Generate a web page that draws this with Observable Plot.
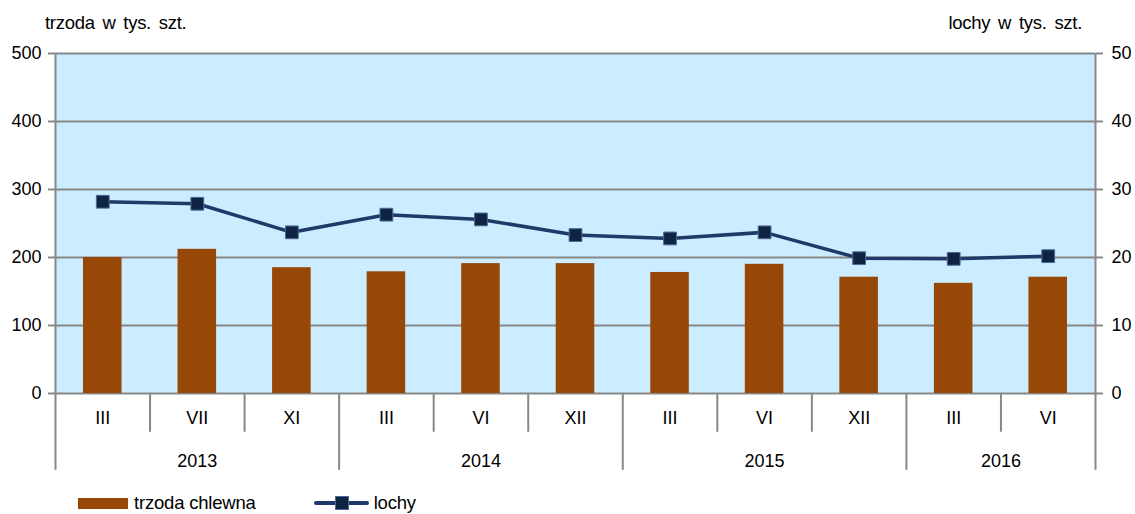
<!DOCTYPE html>
<html><head><meta charset="utf-8">
<script src="https://cdn.jsdelivr.net/npm/d3@7"></script>
<script src="https://cdn.jsdelivr.net/npm/@observablehq/plot@0.6"></script>
<style>
body{margin:0;background:#fff;font-family:"Liberation Sans",Arial,sans-serif;}
#wrap{position:relative;width:1135px;height:514px;overflow:hidden;}
.lbl{position:absolute;font-size:18.5px;color:#000;letter-spacing:-0.3px;word-spacing:3px;white-space:nowrap;}
#chart{position:absolute;left:0;top:40px;}
#legend{position:absolute;left:78px;top:492px;height:22px;display:flex;align-items:center;font-size:18.5px;color:#000;letter-spacing:-0.2px;}
.sw-bar{width:50px;height:11px;background:#974706;display:inline-block;margin-right:6px;}
.sw-line{position:relative;width:55px;height:14px;display:inline-block;margin-left:58px;margin-right:5px;}
.sw-line:before{content:"";position:absolute;left:0;right:0;top:5px;height:4px;background:#1F3A68;border-radius:2px;}
.sw-line:after{content:"";position:absolute;left:21px;top:0;width:12px;height:12px;background:#0F2442;border:1px solid #4A6A96;}
</style></head><body>
<div id="wrap">
<div class="lbl" style="left:45px;top:12px">trzoda w tys. szt.</div>
<div class="lbl" style="right:53px;top:12px">lochy w tys. szt.</div>
<div id="chart"></div>
<div id="legend"><span class="sw-bar"></span><span>trzoda chlewna</span><span class="sw-line"></span><span>lochy</span></div>
</div>
<script>
const months = ["III","VII","XI","III","VI","XII","III","VI","XII","III","VI"];
const years = [2013,2013,2013,2014,2014,2014,2015,2015,2015,2016,2016];
const trzoda = [200,212,185,179,191,191,178,190,171,162,171];
const lochy = [28.2,27.9,23.7,26.3,25.6,23.3,22.8,23.7,19.9,19.8,20.2];
const yTicks = [0,100,200,300,400,500];

const n = months.length;
const data = months.map((m,i)=>({i, month:m, year:years[i], trzoda:trzoda[i], lochy:lochy[i]}));
const boundaries = d3.range(n+1);
const isYearB = b => b===0 || b===n || years[b]!==years[b-1];
const yearGroups = [];
years.forEach((y,i)=>{ if(i===0||years[i-1]!==y) yearGroups.push({year:y,start:i,end:i+1}); else yearGroups[yearGroups.length-1].end=i+1; });

const ROW1 = -57, ROW2 = -113;
const grid = "#888888";

const chart = Plot.plot({
  width:1135, height:440,
  marginTop:13, marginBottom:87, marginLeft:55, marginRight:40,
  style:{fontFamily:"Liberation Sans, Arial, sans-serif", background:"transparent", color:"#000"},
  x:{type:"linear", domain:[0,n], axis:null},
  y:{domain:[0,500], axis:null},
  marks:[
    Plot.frame({fill:"#CCECFF", stroke:null}),
    Plot.ruleY(yTicks, {stroke:grid, strokeWidth:2}),
    Plot.axisY(yTicks, {anchor:"left", tickSize:7, tickPadding:7, stroke:grid, strokeWidth:2, fontSize:18, label:null, color:"#000"}),
    Plot.axisY(yTicks, {anchor:"right", tickSize:7, tickPadding:9, stroke:grid, strokeWidth:2, fontSize:18, label:null, tickFormat:d=>d/10}),
    Plot.rectY(data, {x1:d=>d.i, x2:d=>d.i+1, y:"trzoda", insetLeft:28, insetRight:28, fill:"#974706"}),
    Plot.ruleX(boundaries.filter(b=>isYearB(b)&&(b===0||b===n)), {x:d=>d, y1:ROW2, y2:500, stroke:grid, strokeWidth:2}),
    Plot.ruleX(boundaries.filter(b=>isYearB(b)&&b!==0&&b!==n), {x:d=>d, y1:ROW2, y2:0, stroke:grid, strokeWidth:2}),
    Plot.ruleX(boundaries.filter(b=>!isYearB(b)), {x:d=>d, y1:ROW1, y2:0, stroke:grid, strokeWidth:2}),
    Plot.text(data, {x:d=>d.i+0.5, y:-36, text:"month", fontSize:18, fill:"#000"}),
    Plot.text(yearGroups, {x:d=>(d.start+d.end)/2, y:-99, text:d=>String(d.year), fontSize:18, fill:"#000"}),
    Plot.line(data, {x:d=>d.i+0.5, y:d=>d.lochy*10, stroke:"#1F3A68", strokeWidth:3.5}),
    Plot.dot(data, {x:d=>d.i+0.5, y:d=>d.lochy*10, symbol:"square", r:7.2, fill:"#0F2442", stroke:"#4A6A96", strokeWidth:1})
  ]
});
document.getElementById("chart").appendChild(chart);
</script>
</body></html>
